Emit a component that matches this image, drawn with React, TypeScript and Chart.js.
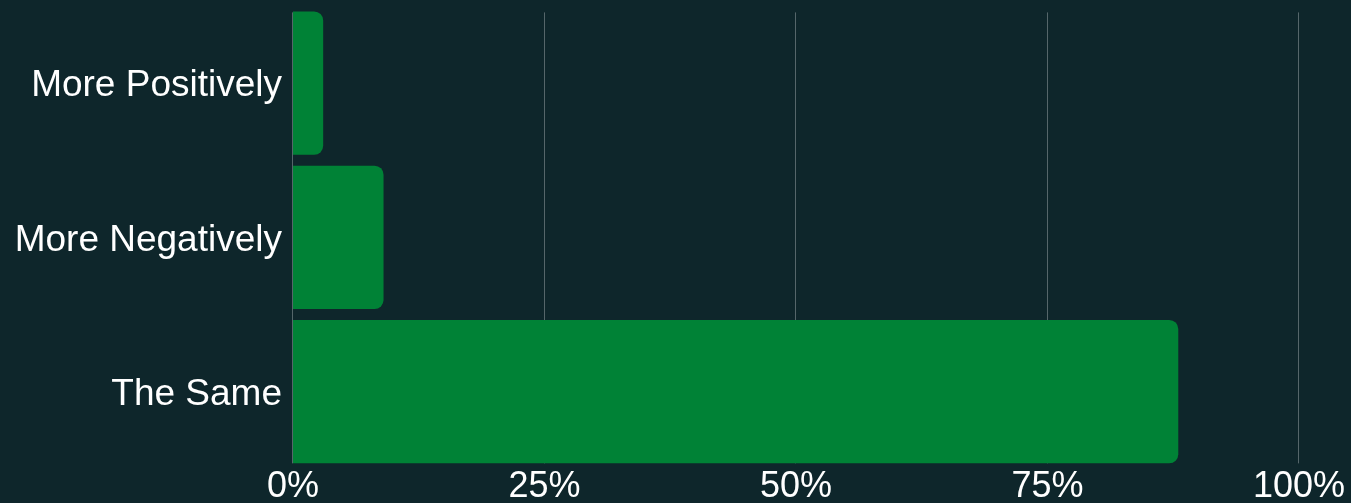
import React, { useEffect, useRef } from "react";
import { Chart, registerables } from "chart.js";

Chart.register(...registerables);

const categories = ["More Positively", "More Negatively", "The Same"];
const values = [3, 9, 88];
const xTicks = [0, 25, 50, 75, 100];

const BG = "#0e262b";
const BAR = "#008236";
const GRID = "#55666a";

const gridPlugin = {
  id: "customGrid",
  beforeDatasetsDraw(chart: any) {
    const { ctx, scales } = chart;
    const meta = chart.getDatasetMeta(0);
    const first = meta.data[0];
    const last = meta.data[meta.data.length - 1];
    const top = first.y - first.height / 2 + 1;
    const bottom = last.y + last.height / 2;
    ctx.save();
    ctx.strokeStyle = GRID;
    ctx.lineWidth = 1;
    xTicks.forEach((t) => {
      const x = Math.round(scales.x.getPixelForValue(t)) - 0.5;
      ctx.beginPath();
      ctx.moveTo(x, top);
      ctx.lineTo(x, bottom);
      ctx.stroke();
    });
    ctx.restore();
  },
};

export default function App() {
  const ref = useRef<HTMLCanvasElement>(null);
  useEffect(() => {
    document.body.style.margin = "0";
    document.body.style.background = BG;
    const chart = new Chart(ref.current!, {
      type: "bar",
      data: {
        labels: categories,
        datasets: [
          {
            data: values,
            backgroundColor: BAR,
            borderRadius: 9,
            borderSkipped: "start",
            barPercentage: 0.93,
            categoryPercentage: 1,
          },
        ],
      },
      options: {
        indexAxis: "y",
        responsive: false,
        animation: false,
        layout: { padding: { top: 6, right: 52, left: 0, bottom: 0 } },
        plugins: { legend: { display: false }, tooltip: { enabled: false } },
        scales: {
          x: {
            min: 0,
            max: 100,
            afterBuildTicks: (scale: any) => {
              scale.ticks = xTicks.map((v) => ({ value: v }));
            },
            afterFit: (scale: any) => {
              scale.height = 34.25;
              scale.paddingLeft = 0;
              scale.paddingRight = 0;
            },
            grid: { display: false, drawTicks: false },
            border: { display: false },
            ticks: {
              color: "#ffffff",
              padding: 0,
              font: { family: "'Liberation Sans', Arial, sans-serif", size: 36, lineHeight: 1 },
              callback: (v: any) => v + "%",
              maxRotation: 0,
            },
          },
          y: {
            afterFit: (scale: any) => {
              scale.width = 293;
              scale.paddingTop = 0;
              scale.paddingBottom = 0;
            },
            grid: { display: false, drawTicks: false },
            border: { display: false },
            ticks: {
              color: "#ffffff",
              padding: 11,
              labelOffset: 3,
              font: { family: "'Liberation Sans', Arial, sans-serif", size: 37 },
            },
          },
        },
      },
      plugins: [gridPlugin],
    });
    return () => chart.destroy();
  }, []);
  return (
    <div style={{ width: 1351, height: 503, background: BG }}>
      <canvas ref={ref} width={1351} height={503} style={{ display: "block" }} />
    </div>
  );
}
